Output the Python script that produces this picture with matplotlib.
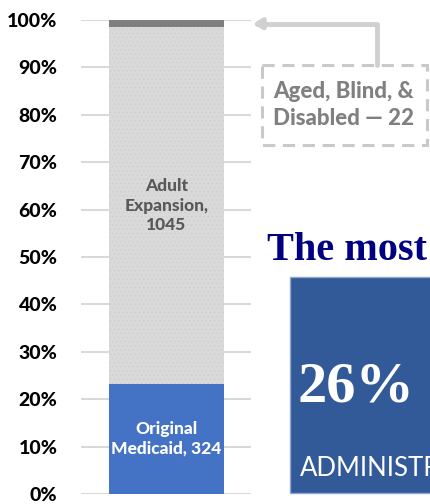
import matplotlib
matplotlib.use("Agg")
import matplotlib.pyplot as plt
from matplotlib.patches import Rectangle
import numpy as np

# enrollment groups (stacked from the bottom)
groups = ["Original Medicaid", "Adult Expansion", "Aged, Blind, & Disabled"]
counts = [324, 1045, 22]
seg_colors = ["#4472C4", "#D9D9D9", "#7F7F7F"]
seg_labels = ["Original\nMedicaid, %d" % counts[0],
              "Adult\nExpansion,\n%d" % counts[1],
              None]
label_colors = ["white", "#595959", None]

yticks = np.arange(0, 101, 10)
ytick_labels = ["%d%%" % t for t in yticks]

total = sum(counts)
shares = [c / total * 100 for c in counts]

W, H = 430, 504
fig = plt.figure(figsize=(W / 100, H / 100), dpi=100)

ax = fig.add_axes([81 / W, 10 / H, 170 / W, 474 / H])
ax.set_xlim(0, 1)
ax.set_ylim(0, 100)

plt.rcParams["hatch.linewidth"] = 0.4
bottom = 0
for i, s in enumerate(shares):
    hatch = "...." if i == 1 else None
    ax.bar(0.503, s, width=0.675, bottom=bottom, color=seg_colors[i],
           edgecolor="#CCCCCC" if i == 1 else seg_colors[i], linewidth=0,
           hatch=hatch, zorder=2)
    if seg_labels[i]:
        ax.text(0.503, bottom + s / 2, seg_labels[i], ha="center", va="center",
                color=label_colors[i], fontsize=12.5, fontweight=900,
                family="Lato", linespacing=1.3, zorder=3)
    bottom += s

ax.set_yticks(yticks)
ax.set_yticklabels(ytick_labels, fontsize=14, fontweight=900, family="Lato",
                   va="center_baseline")
ax.tick_params(axis="y", length=0, pad=17)
ax.set_xticks([])
ax.grid(axis="y", color="#D9D9D9", linewidth=1.5, zorder=0)
for sp in ax.spines.values():
    sp.set_visible(False)

# overlay in pixel coordinates for the callout and the slide pieces
ov = fig.add_axes([0, 0, 1, 1], zorder=5)
ov.set_xlim(0, W)
ov.set_ylim(H, 0)
ov.axis("off")
ov.patch.set_alpha(0)

# callout box
ov.add_patch(Rectangle((262, 65), 165, 80, fill=False, edgecolor="#C9C9C9",
                       linewidth=2.2, linestyle=(0, (4, 2.5))))
ov.text(344, 105, "Aged, Blind, &\nDisabled \u2014 %d" % counts[2], ha="center",
        va="center", color="#808080", fontsize=16, fontweight=900,
        family="Lato", linespacing=1.3)

# arrow from callout to the top segment
abd_mid = 100 - shares[2] / 2
ax.annotate("", xy=(1.01, abd_mid), xycoords=("axes fraction", "data"),
            xytext=(377, H - 65), textcoords="figure pixels",
            arrowprops=dict(arrowstyle="-|>,head_length=0.5,head_width=0.3",
                            color="#D0D0D0", lw=3.5,
                            connectionstyle="angle,angleA=90,angleB=0,rad=0",
                            shrinkA=0, shrinkB=0),
            annotation_clip=False)

# slide overlay
ov.text(267, 250, "The most", ha="left", va="center", color="#000080",
        fontsize=29, fontweight="bold", family="Liberation Serif")
box = Rectangle((290, 277), 150, 216, facecolor="#335A98",
                edgecolor="#8FA6CC", linewidth=1)
ov.add_patch(box)
ov.text(298, 388, "26%", ha="left", va="center", color="white",
        fontsize=42, fontweight="bold", family="Liberation Serif")
ov.text(300, 469, "ADMINISTRATIVE", ha="left", va="center", color="white",
        fontsize=18.5, family="Lato", clip_on=True)

fig.savefig("out.png", dpi=100)
